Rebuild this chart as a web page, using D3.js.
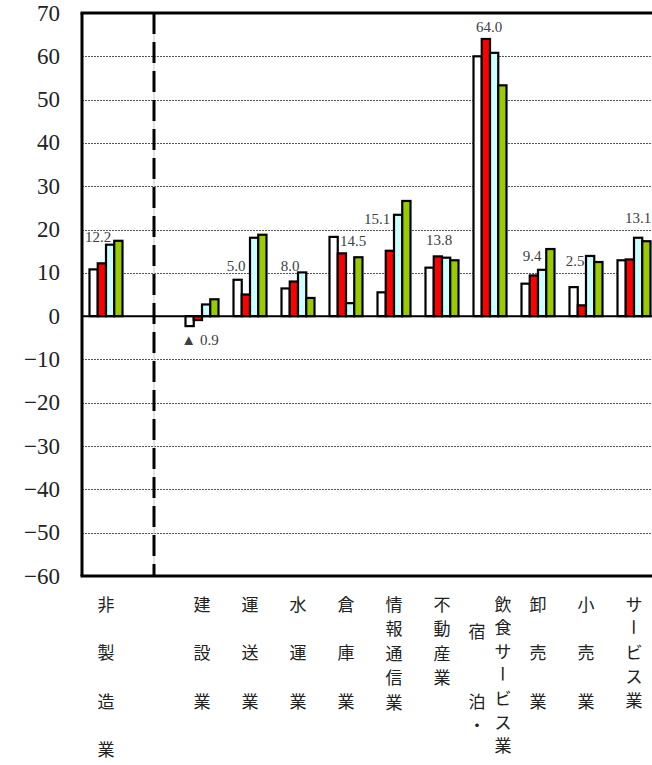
<!DOCTYPE html>
<html><head><meta charset="utf-8">
<script src="https://cdn.jsdelivr.net/npm/d3@7"></script>
<style>html,body{margin:0;padding:0;background:#fff;} svg{display:block}</style>
</head><body>
<svg id="chart" width="652" height="765"></svg>
<script>
// ---- data ----
const categories = ["非製造業","","建設業","運送業","水運業","倉庫業","情報通信業","不動産業","宿泊・飲食サービス業","卸売業","小売業","サービス業"];
const seriesNames = ["s1","s2","s3","s4"];
const series1 = [10.8, null, -2.3, 8.4, 6.4, 18.3, 5.5, 11.2, 60.0, 7.5, 6.7, 12.9];
const series2 = [12.2, null, -0.9, 5.0, 8.0, 14.5, 15.1, 13.8, 64.0, 9.4, 2.5, 13.1];
const series3 = [16.5, null, 2.7, 18.1, 10.1, 3.0, 23.4, 13.5, 60.8, 10.7, 13.9, 18.1];
const series4 = [17.4, null, 3.9, 18.8, 4.2, 13.6, 26.6, 12.9, 53.3, 15.5, 12.5, 17.3];
const yTicks = [-60,-50,-40,-30,-20,-10,0,10,20,30,40,50,60,70];

// ---- layout / style (not data) ----
const colors = ["#ffffff","#ff0000","#ccffff","#99cc00"];
// value-label placement: [dx from category centre, label centre in chart units]
const labelPlace = [[-8,18.2],null,[-2,-5.5],[-14,11.5],[-8,11.5],[7,17.4],[-17,22.4],[-3,17.5],[-1,66.8],[-6,13.9],[-11,12.7],[4,22.6]];
// category label columns: [dx, start cell, text], pitch
const catLayout = [
  {pitch:48.5, cols:[[0,0,"非製造業"]]},
  {pitch:0, cols:[]},
  {pitch:48.5, cols:[[0,0,"建設業"]]},
  {pitch:48.5, cols:[[0,0,"運送業"]]},
  {pitch:48.5, cols:[[0,0,"水運業"]]},
  {pitch:48.5, cols:[[0,0,"倉庫業"]]},
  {pitch:24.6, cols:[[0,0,"情報通信業"]]},
  {pitch:24.6, cols:[[0,0,"不動産業"]]},
  {pitch:23.6, cols:[[13,0,"飲食サービス業"],[-13,1.15,"宿　　泊・"]]},
  {pitch:48.5, cols:[[0,0,"卸売業"]]},
  {pitch:48.5, cols:[[0,0,"小売業"]]},
  {pitch:24, cols:[[0,0,"サービス業"]]}
];

const W = 652, H = 765;
const pLeft = 82, pTop = 13, pBottom = 576, pRight = 658;
const svg = d3.select("#chart");

const x0 = d3.scaleBand().domain(d3.range(categories.length)).range([pLeft, pRight])
  .paddingInner(0.3125).paddingOuter(0.15625);
const x1 = d3.scaleBand().domain(d3.range(4)).range([0, x0.bandwidth()]).padding(0);
const y = d3.scaleLinear().domain([-60,70]).range([pBottom, pTop]);
const allSeries = [series1, series2, series3, series4];
const center = i => x0(i) + x0.bandwidth()/2;

// gridlines
svg.append("g").selectAll("line").data(yTicks.filter(t => t !== 0 && t !== 70 && t !== -60))
  .join("line")
  .attr("x1", pLeft).attr("x2", W)
  .attr("y1", d => Math.round(y(d)) + 0.5).attr("y2", d => Math.round(y(d)) + 0.5)
  .attr("stroke", "#555").attr("stroke-width", 1).attr("stroke-dasharray", "2,1");

// separator (dashed) at empty category
const sx = center(1);
svg.append("line").attr("x1", sx).attr("x2", sx).attr("y1", pTop).attr("y2", pBottom)
  .attr("stroke", "#c8c8c8").attr("stroke-width", 1);
svg.append("line").attr("x1", sx).attr("x2", sx).attr("y1", pTop).attr("y2", pBottom)
  .attr("stroke", "#000").attr("stroke-width", 3).attr("stroke-dasharray", "21,8");

// bars
const barData = [];
allSeries.forEach((s, si) => s.forEach((v, ci) => { if (v !== null) barData.push({si, ci, v}); }));
svg.append("g").selectAll("rect").data(barData).join("rect")
  .attr("x", d => x0(d.ci) + x1(d.si))
  .attr("width", x1.bandwidth())
  .attr("y", d => y(Math.max(0, d.v)))
  .attr("height", d => Math.abs(y(d.v) - y(0)))
  .attr("fill", d => colors[d.si])
  .attr("stroke", "#000").attr("stroke-width", 2.2);

// zero line & frame
svg.append("line").attr("x1", pLeft).attr("x2", W).attr("y1", y(0)).attr("y2", y(0))
  .attr("stroke", "#000").attr("stroke-width", 2);
svg.append("line").attr("x1", pLeft - 1.5).attr("x2", W).attr("y1", pTop).attr("y2", pTop)
  .attr("stroke", "#000").attr("stroke-width", 3);
svg.append("line").attr("x1", pLeft - 1.5).attr("x2", W).attr("y1", pBottom).attr("y2", pBottom)
  .attr("stroke", "#000").attr("stroke-width", 3);
svg.append("line").attr("x1", pLeft).attr("x2", pLeft).attr("y1", pTop).attr("y2", pBottom)
  .attr("stroke", "#000").attr("stroke-width", 3);

// y tick labels
svg.append("g").selectAll("text").data(yTicks).join("text")
  .attr("x", 60).attr("y", d => y(d))
  .attr("text-anchor", "end").attr("dominant-baseline", "central")
  .attr("font-family", "'Liberation Serif','Times New Roman',serif")
  .attr("font-size", 23).attr("fill", "#222")
  .text(d => d < 0 ? "\u2212" + Math.abs(d) : String(d));

// value labels (series 2)
const labelData = series2.map((v, i) => ({v, i})).filter(d => d.v !== null);
svg.append("g").selectAll("text").data(labelData).join("text")
  .attr("x", d => center(d.i) + labelPlace[d.i][0])
  .attr("y", d => y(labelPlace[d.i][1]))
  .attr("text-anchor", "middle").attr("dominant-baseline", "central")
  .attr("font-family", "'Liberation Serif','Times New Roman',serif")
  .attr("font-size", 15).attr("fill", "#404040")
  .text(d => d.v < 0 ? "\u25B2 " + Math.abs(d.v).toFixed(1) : d.v.toFixed(1));

// category labels (vertical, char by char)
const chars = [];
catLayout.forEach((lay, ci) => {
  lay.cols.forEach(([dx, start, str]) => {
    Array.from(str).forEach((ch, k) => {
      if (ch === "　") return;
      chars.push({ch, x: center(ci) + dx, y: 603 + (start + k) * lay.pitch});
    });
  });
});
svg.append("g").selectAll("text").data(chars).join("text")
  .attr("x", d => d.x).attr("y", d => d.y)
  .attr("text-anchor", "middle").attr("dominant-baseline", "central")
  .attr("font-family", "'Noto Sans CJK JP','Noto Sans CJK SC',sans-serif")
  .attr("font-size", 17).attr("fill", "#222")
  .attr("transform", d => d.ch === "ー" ? `rotate(90 ${d.x} ${d.y})` : null)
  .text(d => d.ch);
</script>
</body></html>
